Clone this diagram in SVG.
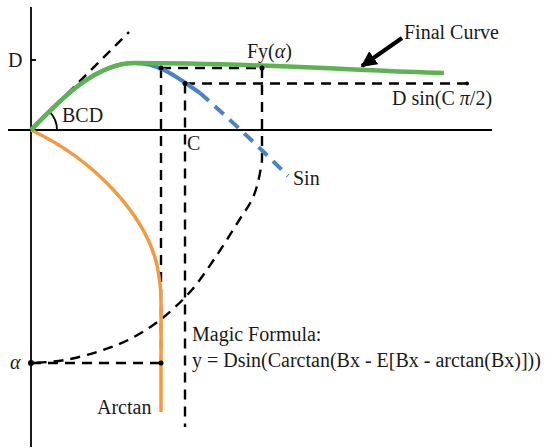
<svg xmlns="http://www.w3.org/2000/svg" width="545" height="448" viewBox="0 0 545 448">
<defs>
<style>
.ax{stroke:#000;stroke-width:1.8;fill:none}
.dash{stroke:#000;stroke-width:2.4;fill:none;stroke-dasharray:10 7}
.t{font-family:"Liberation Serif","Times New Roman",serif;font-size:20px;fill:#1a1a1a}
.it{font-style:italic}
.dot{fill:#000}
</style>
<marker id="ah" viewBox="0 0 10 10" refX="9" refY="5" markerWidth="4" markerHeight="4" orient="auto" markerUnits="strokeWidth">
<path d="M0,0 L10,5 L0,10 z" fill="#000"/>
</marker>
</defs>
<rect width="545" height="448" fill="#fff"/>
<g id="axes">
<line class="ax" x1="31" y1="7" x2="31" y2="447"/>
<line class="ax" x1="8" y1="130" x2="492" y2="130"/>
<line class="ax" x1="31" y1="60" x2="36" y2="60"/>
<path class="ax" d="M57,130 A26,26 0 0,0 49.4,111.6" stroke-width="2"/>
</g>
<g id="connectors">
<line class="dash" x1="31" y1="130" x2="129" y2="32"/>
<line class="dash" x1="161" y1="68" x2="262" y2="68"/>
<line class="dash" x1="185" y1="83.5" x2="467" y2="83.5"/>
<line class="dash" x1="161" y1="68" x2="161" y2="363"/>
<line class="dash" x1="185" y1="83.5" x2="185" y2="427"/>
<line class="dash" x1="31" y1="363" x2="161" y2="363"/>
<path class="dash" d="M262,68 L262,160 C260.7,170.8 258,184.7 254,195 C250,205.3 244.5,211.5 238,222 C231.5,232.5 223,246.3 215,258 C207,269.7 199.2,281.7 190,292 C180.8,302.3 170,312.2 160,320 C150,327.8 140,333.8 130,339 C120,344.2 110.8,347.5 100,351 C89.2,354.5 76.5,358 65,360 C53.5,362 41.8,362.5 31,363"/>
<line x1="402" y1="38" x2="362" y2="66" stroke="#000" stroke-width="4" marker-end="url(#ah)"/>
</g>
<g id="arctan">
<path d="M31,130 C95,160 145,215 157,265 C160,280 161,290 161,300 L161,412" fill="none" stroke="#F39A3F" stroke-width="3.5"/>
</g>
<g id="sin">
<path d="M31,130 C60,100 95,63 135,63 C160,63 178,78 200,93" fill="none" stroke="#4A83C4" stroke-width="4"/>
<path d="M200,93 Q240,128 288,176" fill="none" stroke="#4A83C4" stroke-width="4" stroke-dasharray="12 8"/>
</g>
<g id="final-curve">
<path d="M31,130 C60,100 95,63 135,63 C250,63 350,70 444,73" fill="none" stroke="#5DB351" stroke-width="4.5"/>
</g>
<g id="dots">
<circle class="dot" cx="262" cy="68" r="2.5"/>
<circle class="dot" cx="161" cy="68" r="2.5"/>
<circle class="dot" cx="185" cy="83.5" r="2.5"/>
<circle class="dot" cx="467" cy="83.5" r="2"/>
<circle class="dot" cx="31" cy="363" r="3"/>
<circle class="dot" cx="161" cy="363" r="2.5"/>
</g>
<g id="labels">
<text class="t" x="8" y="67">D</text>
<text class="t" x="247" y="58">Fy(<tspan class="it">α</tspan>)</text>
<text class="t" x="404" y="39">Final Curve</text>
<text class="t" x="392" y="105">D sin(C <tspan class="it">π</tspan>/2)</text>
<text class="t" x="62" y="122">BCD</text>
<text class="t" x="187" y="150">C</text>
<text class="t" x="293" y="185">Sin</text>
<text class="t" x="192" y="341">Magic Formula:</text>
<text class="t" x="192" y="367">y = Dsin(Carctan(Bx - E[Bx - arctan(Bx)]))</text>
<text class="t" x="97" y="414">Arctan</text>
<text class="t it" x="10" y="369">α</text>
</g>
</svg>
